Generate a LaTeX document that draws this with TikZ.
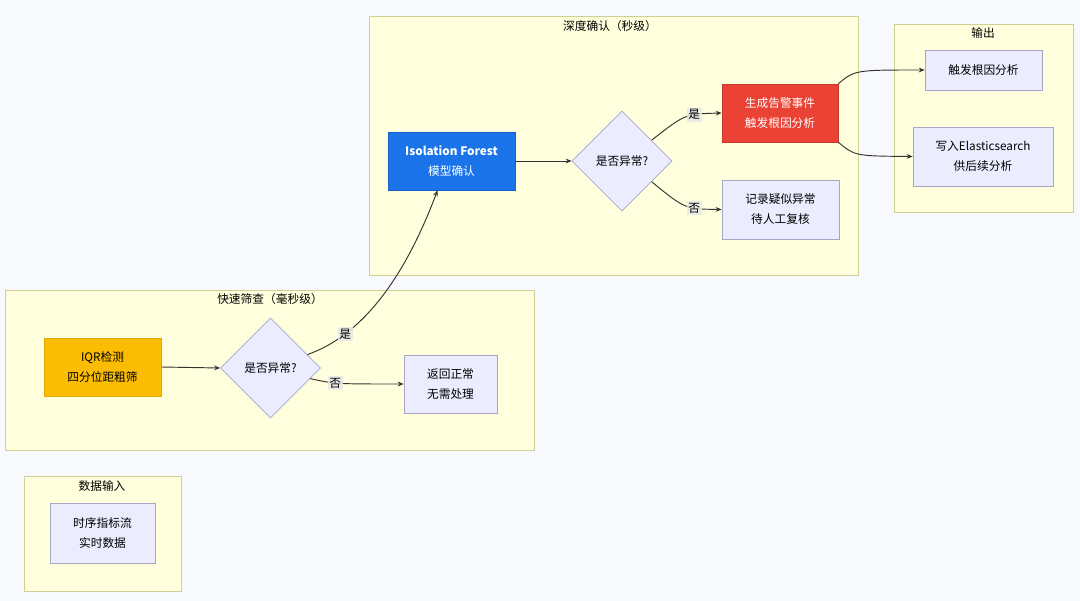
\documentclass[tikz,border=0pt]{standalone}
\usepackage{fontspec}
\setmainfont{Noto Sans CJK SC}
\usetikzlibrary{shapes.geometric,arrows.meta,calc}
\definecolor{bgpage}{HTML}{F8F9FC}
\definecolor{grpfill}{HTML}{FFFFDE}
\definecolor{grpline}{HTML}{CFCF96}
\definecolor{boxfill}{HTML}{ECECFF}
\definecolor{boxline}{HTML}{A6A6C8}
\definecolor{gblue}{HTML}{1A73E8}
\definecolor{gred}{HTML}{EA4335}
\definecolor{gyellow}{HTML}{FBBC04}
\definecolor{lblfill}{HTML}{E8E8E8}

\begin{document}
\begin{tikzpicture}[x=0.3mm,y=-0.3mm,
    every node/.style={font=\fontsize{10}{17}\selectfont},
    group/.style={draw=grpline,fill=grpfill,line width=0.6pt},
    proc/.style={draw=boxline,fill=boxfill,line width=0.6pt,align=center,inner sep=0pt},
    check/.style={diamond,draw=boxline,fill=boxfill,line width=0.6pt,aspect=1,inner sep=0pt,minimum size=30mm},
    lbl/.style={fill=lblfill,fill opacity=0.85,text opacity=1,inner sep=1.5pt},
    arr/.style={draw={black!80},line width=0.8pt,-{Stealth[length=5pt,width=4pt]}}]
  \fill[bgpage] (0,0) rectangle (1080,601);
  \draw[group] (369,16) rectangle (858,275);
  \draw[group] (894,24) rectangle (1073,212);
  \draw[group] (5,290) rectangle (534,450);
  \draw[group] (24,476) rectangle (181,591);
  \node (tdeep) at (610,26) {深度确认（秒级）};
  \node (tout) at (983,33) {输出};
  \node (tfast) at (270,299) {快速筛查（毫秒级）};
  \node (tin) at (102,486) {数据输入};

  \node[proc,minimum width=31.5mm,minimum height=18mm] (stream) at (102.5,533) {时序指标流\\实时数据};
  \node[proc,draw=gyellow!90!black,fill=gyellow,minimum width=35.1mm,minimum height=17.4mm] (iqr) at (102.5,367) {IQR检测\\四分位距粗筛};
  \node[check] (fdia) at (270.5,368) {是否异常?};
  \node[proc,minimum width=27.9mm,minimum height=17.4mm] (ret) at (450.5,384) {返回正常\\无需处理};
  \node[proc,draw=gblue!85!black,fill=gblue,text=white,minimum width=38.1mm,minimum height=17.4mm] (iforest) at (451.5,161) {\bfseries Isolation Forest\\模型确认};
  \node[check] (ddia) at (622,161) {是否异常?};
  \node[proc,draw=gred!85!black,fill=gred,text=white,minimum width=34.8mm,minimum height=17.4mm] (alarm) at (780,113) {生成告警事件\\触发根因分析};
  \node[proc,minimum width=35.1mm,minimum height=17.7mm] (record) at (780.5,209.5) {记录疑似异常\\待人工复核};
  \node[proc,minimum width=35.1mm,minimum height=12mm] (rca) at (983.5,70) {触发根因分析};
  \node[proc,minimum width=42mm,minimum height=17.7mm] (es) at (983,156.5) {写入Elasticsearch\\供后续分析};

  \draw[arr] (iqr.east) -- (fdia.west);
  \draw[arr] (fdia.20) .. controls (355,338) and (400,290) .. ($(iforest.south)+(-14,0)$) node[lbl,pos=0.27] {是};
  \draw[arr] (fdia.-15) .. controls (335,384) .. (ret.west) node[lbl,pos=0.42] {否};
  \draw[arr] (iforest.east) -- (ddia.west);
  \draw[arr] (ddia.35) .. controls (685,114) .. (alarm.west) node[lbl,pos=0.66] {是};
  \draw[arr] (ddia.-35) .. controls (685,209) .. (record.west) node[lbl,pos=0.66] {否};
  \draw[arr] (alarm.north east) .. controls (855,70) .. (rca.west);
  \draw[arr] (alarm.south east) .. controls (855,156) .. (es.west);
\end{tikzpicture}
\end{document}
